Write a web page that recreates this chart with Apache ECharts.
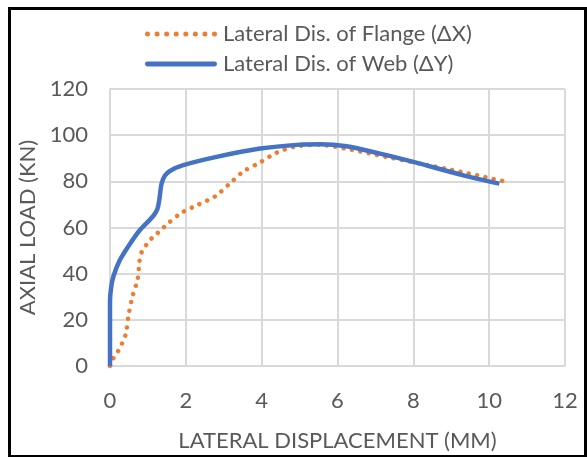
<!DOCTYPE html>
<html>
<head>
<meta charset="utf-8">
<script src="https://cdn.jsdelivr.net/npm/echarts@6/dist/echarts.min.js"></script>
<style>html,body{margin:0;padding:0;background:#fff}#c{width:587px;height:457px}</style>
</head>
<body>
<div id="c"></div>
<script>
const seriesNames = ['Lateral Dis. of Flange (ΔX)', 'Lateral Dis. of Web (ΔY)'];
const flangeX = [0, 0.09, 0.22, 0.33, 0.42, 0.49, 0.59, 0.73, 0.78, 0.84, 0.98, 1.14, 1.33, 1.51, 1.89, 2.34, 2.78, 3.15, 3.52, 3.96, 4.38, 4.86, 5.5, 6.33, 7.28, 8.97, 9.94, 10.45];
const flangeY = [0, 3.4, 6.6, 10.2, 14.1, 22, 30, 37.7, 45.6, 49.5, 53, 56, 58.6, 61.5, 66.4, 70, 73.6, 78.9, 84.3, 88.2, 92.3, 95, 95.8, 93.8, 90.6, 85.1, 81.7, 79.8];
const webX = [0, 0, 0.03, 0.09, 0.26, 0.53, 0.79, 1.14, 1.25, 1.3, 1.36, 1.45, 1.58, 1.93, 2.81, 3.96, 5.0, 5.54, 6.24, 7.12, 8.0, 9.32, 10.27];
const webY = [0, 28, 34, 38.8, 45.9, 53, 58.9, 65, 68, 72, 79, 82.5, 84.5, 87, 90.6, 94.2, 95.9, 96.1, 95.2, 92, 88.4, 82.6, 79];
const xTicks = [0, 2, 4, 6, 8, 10, 12];
const yTicks = [0, 20, 40, 60, 80, 100, 120];
const xTitle = 'LATERAL DISPLACEMENT (MM)';
const yTitle = 'AXIAL LOAD (KN)';

const font = 'Lato, "Open Sans", sans-serif';
const txt = '#595959';
// legend icons (72 x 5 px)
let dots = '';
for (let i = 0; i < 8; i++) {
  const cx = 2.5 + i * 9.57;
  dots += 'M' + (cx - 2.5) + ' 2.5 a2.5 2.5 0 1 0 5 0 a2.5 2.5 0 1 0 -5 0 Z ';
}
const dotIcon = 'path://' + dots;
const barIcon = 'path://M2 0 L70 0 A2.5 2.5 0 0 1 70 5 L2 5 A2.5 2.5 0 0 1 2 0 Z';

const chart = echarts.init(document.getElementById('c'));
chart.setOption({
  animation: false,
  backgroundColor: '#fff',
  graphic: [{type: 'rect', left: 7, top: 6, shape: {width: 576, height: 448}, style: {fill: 'none', stroke: '#000', lineWidth: 3}, silent: true}],
  legend: {
    orient: 'vertical', left: 140, top: 18, itemGap: 8, itemWidth: 72, itemHeight: 5,
    textStyle: {color: txt, fontFamily: font, fontSize: 22, padding: [0, 0, 0, 1]},
    data: [
      {name: seriesNames[0], icon: dotIcon, itemStyle: {color: '#ED7D31'}},
      {name: seriesNames[1], icon: barIcon, itemStyle: {color: '#4472C4'}}
    ]
  },
  grid: {left: 110, right: 22, top: 89, bottom: 90},
  xAxis: {
    type: 'value', min: xTicks[0], max: xTicks[xTicks.length - 1], interval: 2,
    name: xTitle, nameLocation: 'middle', nameGap: 64,
    nameTextStyle: {color: txt, fontFamily: font, fontSize: 22},
    axisLine: {show: true, lineStyle: {color: '#d9d9d9', width: 2}},
    axisTick: {show: false},
    axisLabel: {color: txt, fontFamily: font, fontSize: 22, margin: 24},
    splitLine: {show: true, lineStyle: {color: '#d9d9d9', width: 2}}
  },
  yAxis: {
    type: 'value', min: yTicks[0], max: yTicks[yTicks.length - 1], interval: 20,
    name: yTitle, nameLocation: 'middle', nameGap: 64, nameRotate: 90,
    nameTextStyle: {color: txt, fontFamily: font, fontSize: 22},
    axisLine: {show: true, lineStyle: {color: '#d9d9d9', width: 2}},
    axisTick: {show: false},
    axisLabel: {color: txt, fontFamily: font, fontSize: 22, margin: 22},
    splitLine: {show: true, lineStyle: {color: '#d9d9d9', width: 2}}
  },
  series: [
    {
      name: seriesNames[0], type: 'line', symbol: 'none', smooth: 0.3,
      data: flangeX.map((x, i) => [x, flangeY[i]]),
      lineStyle: {color: '#ED7D31', width: 4.5, type: [0.01, 8.5], cap: 'round'},
      itemStyle: {color: '#ED7D31'}, z: 2
    },
    {
      name: seriesNames[1], type: 'line', symbol: 'none', smooth: 0.3,
      data: webX.map((x, i) => [x, webY[i]]),
      lineStyle: {color: '#4472C4', width: 4.5},
      itemStyle: {color: '#4472C4'}, z: 3
    }
  ]
});
</script>
</body>
</html>
